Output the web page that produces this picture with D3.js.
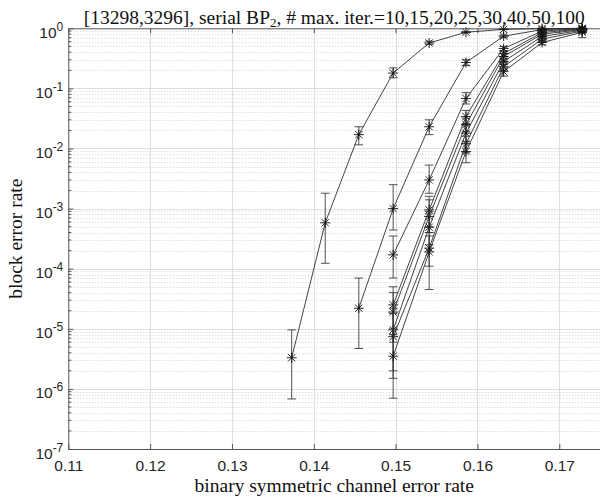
<!DOCTYPE html>
<html>
<head>
<meta charset="utf-8">
<script src="https://cdn.jsdelivr.net/npm/d3@7"></script>
<style>
  body { margin: 0; background: #fff; }
  svg { display: block; }
</style>
</head>
<body>
<div id="chart"></div>
<script>
// channel error rates (x) shared by all curves
const channelP = [0.1373, 0.1414, 0.1455, 0.1497, 0.1541, 0.1586, 0.1632, 0.1679, 0.1728]
const xTicks = [0.11, 0.12, 0.13, 0.14, 0.15, 0.16, 0.17]

// block error rate per curve, null where not simulated
const blerA = [3.3e-6, 5.8e-4, 1.7e-2, 0.18, 0.57, 0.86, 0.96, 0.99, 1.0]
const blerB = [null, null, 2.2e-5, 1.0e-3, 0.023, 0.27, 0.74, 0.95, 0.99]
const blerC = [null, null, null, 1.7e-4, 3.0e-3, 0.068, 0.46, 0.90, 0.99]
const blerD = [null, null, null, 2.5e-5, 9.5e-4, 0.034, 0.38, 0.85, 0.97]
const blerE = [null, null, null, 1.9e-5, 7.4e-4, 0.025, 0.34, 0.80, 0.95]
const blerF = [null, null, null, 9.6e-6, 4.9e-4, 0.018, 0.28, 0.73, 0.93]
const blerG = [null, null, null, 7.4e-6, 2.2e-4, 0.012, 0.23, 0.66, 0.90]
const blerH = [null, null, null, 3.5e-6, 1.9e-4, 0.0089, 0.19, 0.58, 0.86]

// confidence interval bounds
const loA = [6.8e-7, 1.23e-4, 1.15e-2, 0.15, 0.54, 0.84, 0.95, 0.985, 0.995]
const hiA = [9.6e-6, 1.8e-3, 2.3e-2, 0.22, 0.61, 0.88, 0.97, 0.995, 1.0]
const loB = [null, null, 4.7e-6, 4.4e-4, 0.017, 0.24, 0.70, 0.93, 0.98]
const hiB = [null, null, 7e-5, 2.5e-3, 0.030, 0.30, 0.77, 0.97, 1.0]
const loC = [null, null, null, 7e-5, 1.8e-3, 0.055, 0.42, 0.87, 0.98]
const hiC = [null, null, null, 3.5e-4, 5.3e-3, 0.085, 0.50, 0.93, 1.0]
const loD = [null, null, null, 8e-6, 5e-4, 0.026, 0.34, 0.81, 0.95]
const hiD = [null, null, null, 5e-5, 1.6e-3, 0.043, 0.42, 0.89, 0.99]
const loE = [null, null, null, 6e-6, 4e-4, 0.019, 0.30, 0.76, 0.92]
const hiE = [null, null, null, 4e-5, 1.4e-3, 0.032, 0.38, 0.84, 0.98]
const loF = [null, null, null, 2e-6, 2.5e-4, 0.013, 0.25, 0.69, 0.90]
const hiF = [null, null, null, 2.2e-5, 9e-4, 0.024, 0.32, 0.77, 0.96]
const loG = [null, null, null, 1.5e-6, 1.1e-4, 0.0085, 0.20, 0.61, 0.86]
const hiG = [null, null, null, 1.8e-5, 4e-4, 0.016, 0.27, 0.70, 0.94]
const loH = [null, null, null, 7e-7, 4.5e-5, 0.0058, 0.16, 0.53, 0.70]
const hiH = [null, null, null, 1e-5, 3.5e-4, 0.012, 0.22, 0.63, 0.92]

const curves = [
  [blerA, loA, hiA], [blerB, loB, hiB], [blerC, loC, hiC], [blerD, loD, hiD],
  [blerE, loE, hiE], [blerF, loF, hiF], [blerG, loG, hiG], [blerH, loH, hiH]
]

const width = 600, height = 500
const plotLeft = 68.3, plotRight = 600.2, plotTop = 28.3, plotBottom = 449

const svg = d3.select('#chart').append('svg')
  .attr('width', width)
  .attr('height', height)

const x = d3.scaleLinear().domain([0.11, 0.175]).range([plotLeft, plotRight])
const y = d3.scaleLog().domain([1e-7, 1]).range([plotBottom, plotTop])

// grid: dotted minor lines on the log axis, solid major lines
const minor = []
for (let e = -7; e < 0; e++) {
  for (let m = 2; m <= 9; m++) minor.push(m * Math.pow(10, e))
}
const grid = svg.append('g').attr('class', 'grid')
grid.selectAll('.minor').data(minor).enter().append('line')
  .attr('x1', plotLeft).attr('x2', plotRight)
  .attr('y1', d => Math.round(y(d)) + 0.5).attr('y2', d => Math.round(y(d)) + 0.5)
  .attr('stroke', '#d0d0d0')
  .attr('stroke-dasharray', '1,2')
grid.selectAll('.majx').data(xTicks.slice(1)).enter().append('line')
  .attr('x1', d => Math.round(x(d)) + 0.5).attr('x2', d => Math.round(x(d)) + 0.5)
  .attr('y1', plotTop).attr('y2', plotBottom)
  .attr('stroke', '#dedede')
const decades = d3.range(-6, 0).map(e => Math.pow(10, e))
grid.selectAll('.majy').data(decades).enter().append('line')
  .attr('x1', plotLeft).attr('x2', plotRight)
  .attr('y1', d => Math.round(y(d)) + 0.5).attr('y2', d => Math.round(y(d)) + 0.5)
  .attr('stroke', '#dedede')

// axes
const axisColor = '#555'
const sans = 'Liberation Sans, Arial, sans-serif'
const bottomAxis = svg.append('g')
  .attr('transform', `translate(0,${plotBottom})`)
  .call(d3.axisBottom(x).tickValues(xTicks).tickSize(-5).tickSizeOuter(0).tickPadding(11)
    .tickFormat(d3.format('.2f')))
bottomAxis.selectAll('text')
  .attr('font-family', sans)
  .attr('font-size', 15.5)
  .attr('fill', '#262626')

svg.append('g')
  .attr('transform', `translate(0,${plotTop})`)
  .call(d3.axisTop(x).tickValues(xTicks).tickSize(-5).tickSizeOuter(0).tickFormat(''))

const leftAxis = svg.append('g')
  .attr('transform', `translate(${plotLeft},0)`)
  .call(d3.axisLeft(y).tickValues(d3.range(-7, 1).map(e => Math.pow(10, e)))
    .tickSize(-5).tickSizeOuter(0).tickFormat(''))
leftAxis.selectAll('.tick').append('text')
  .attr('x', -5)
  .attr('dy', 9)
  .attr('text-anchor', 'end')
  .attr('font-family', sans)
  .attr('font-size', 15.5)
  .attr('fill', '#262626')
  .call(t => t.append('tspan').text('10'))
  .call(t => t.append('tspan')
    .attr('dy', -7)
    .attr('font-size', 12)
    .text(d => Math.round(Math.log10(d)) === 0 ? '0' : '-' + Math.abs(Math.round(Math.log10(d)))))
// minor ticks on left axis
svg.append('g').selectAll('line').data(minor).enter().append('line')
  .attr('x1', plotLeft).attr('x2', plotLeft + 3)
  .attr('y1', d => y(d)).attr('y2', d => y(d))
  .attr('stroke', axisColor)

svg.selectAll('.domain').attr('stroke', axisColor)
svg.selectAll('.tick line').attr('stroke', axisColor)

// curves
const plot = svg.append('g').attr('class', 'curves')
const line = d3.line()
  .defined(d => d.v != null)
  .x(d => x(d.p))
  .y(d => y(d.v))

const drawStar = (g, cx, cy) => {
  const r = 5, k = r * 0.72
  const path = `M${cx - r},${cy}H${cx + r}M${cx},${cy - r}V${cy + r}` +
    `M${cx - k},${cy - k}L${cx + k},${cy + k}M${cx - k},${cy + k}L${cx + k},${cy - k}`
  g.append('path').attr('d', path).attr('stroke', '#111').attr('stroke-width', 0.9).attr('fill', 'none')
}

curves.forEach(([vals, lo, hi]) => {
  const pts = channelP.map((p, i) => ({ p, v: vals[i], lo: lo[i], hi: hi[i] }))
  const g = plot.append('g')
  g.append('path')
    .datum(pts)
    .attr('d', line)
    .attr('fill', 'none')
    .attr('stroke', '#222')
    .attr('stroke-width', 0.85)
  pts.filter(d => d.v != null).forEach(d => {
    const cx = x(d.p)
    const capW = 4.3
    g.append('path')
      .attr('d', `M${cx},${y(d.lo)}V${y(d.hi)}M${cx - capW},${y(d.lo)}H${cx + capW}M${cx - capW},${y(d.hi)}H${cx + capW}`)
      .attr('stroke', '#333')
      .attr('stroke-width', 0.85)
      .attr('fill', 'none')
    drawStar(g, cx, y(d.v))
  })
})

// title and labels
const serif = 'Liberation Serif, Times New Roman, serif'
const title = svg.append('text')
  .attr('x', (plotLeft + plotRight) / 2)
  .attr('y', 23.5)
  .attr('text-anchor', 'middle')
  .attr('font-family', serif)
  .attr('font-size', 19.5)
  .attr('fill', '#111')
title.append('tspan').text('[13298,3296], serial BP')
title.append('tspan').attr('font-size', 13).attr('dy', 3).text('2')
title.append('tspan').attr('dy', -3).text(', # max. iter.=10,15,20,25,30,40,50,100')

svg.append('text')
  .attr('x', (plotLeft + plotRight) / 2)
  .attr('y', 492)
  .attr('text-anchor', 'middle')
  .attr('font-family', serif)
  .attr('font-size', 19.5)
  .attr('fill', '#111')
  .text('binary symmetric channel error rate')

svg.append('text')
  .attr('transform', `translate(21.5,${(plotTop + plotBottom) / 2}) rotate(-90)`)
  .attr('text-anchor', 'middle')
  .attr('font-family', serif)
  .attr('font-size', 19.5)
  .attr('fill', '#111')
  .text('block error rate')
</script>
</body>
</html>
